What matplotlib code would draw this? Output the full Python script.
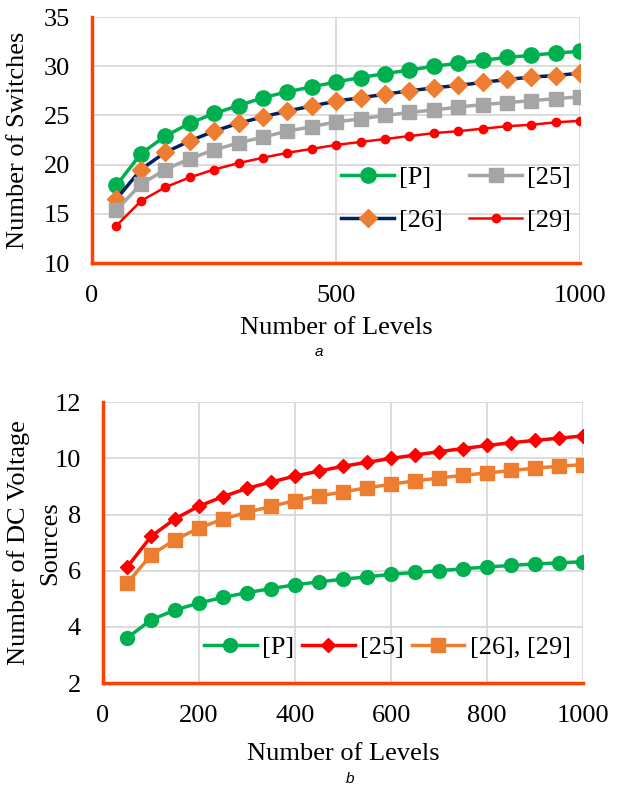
import matplotlib.pyplot as plt

levels = [50, 100, 150, 200, 250, 300, 350, 400, 450, 500,
          550, 600, 650, 700, 750, 800, 850, 900, 950, 1000]

# (a) number of switches
sw_p = [17.9, 21.1, 22.9, 24.2, 25.2, 26.0, 26.8, 27.4, 27.9, 28.4,
        28.85, 29.25, 29.6, 30.0, 30.3, 30.6, 30.9, 31.1, 31.35, 31.5]
sw_25 = [15.4, 18.0, 19.5, 20.6, 21.5, 22.2, 22.8, 23.4, 23.85, 24.35,
         24.65, 25.0, 25.3, 25.55, 25.85, 26.1, 26.3, 26.5, 26.7, 26.9]
sw_26 = [16.5, 19.5, 21.25, 22.4, 23.4, 24.2, 24.85, 25.45, 25.95, 26.45,
         26.8, 27.15, 27.5, 27.8, 28.05, 28.35, 28.65, 28.9, 29.05, 29.3]
sw_29 = [13.8, 16.3, 17.7, 18.7, 19.5, 20.15, 20.7, 21.2, 21.6, 22.0,
         22.3, 22.6, 22.9, 23.2, 23.4, 23.65, 23.9, 24.05, 24.3, 24.45]

# (b) number of DC voltage sources
dc_p = [3.6, 4.25, 4.6, 4.85, 5.05, 5.22, 5.36, 5.5, 5.6, 5.7,
        5.78, 5.87, 5.94, 6.0, 6.07, 6.13, 6.19, 6.24, 6.28, 6.32]
dc_25 = [6.12, 7.22, 7.85, 8.3, 8.64, 8.93, 9.16, 9.37, 9.55, 9.72,
         9.86, 10.0, 10.12, 10.24, 10.35, 10.46, 10.56, 10.64, 10.72, 10.8]
dc_26_29 = [5.55, 6.56, 7.1, 7.52, 7.84, 8.08, 8.29, 8.5, 8.66, 8.81,
            8.95, 9.08, 9.2, 9.3, 9.4, 9.48, 9.57, 9.65, 9.72, 9.78]

plt.rcParams['font.family'] = ['Liberation Serif', 'DejaVu Serif']
plt.rcParams['font.size'] = 19

spine_col = '#FF4000'
grid_col = '#D9D9D9'

fig = plt.figure(figsize=(6.22, 7.91), dpi=100)


def style_axes(ax):
    for s in ['top', 'right']:
        ax.spines[s].set_visible(False)
    for s in ['left', 'bottom']:
        ax.spines[s].set_color(spine_col)
        ax.spines[s].set_linewidth(2.5)
    ax.grid(True, color=grid_col, linewidth=1.3)
    ax.set_axisbelow(True)
    ax.tick_params(length=0, pad=16)


# top chart
ax1 = fig.add_axes([0.148, 0.6675, 0.785, 0.311])
ax1.plot(levels, sw_p, color='#00B050', lw=2.5, marker='o', ms=11, label='[P]')
ax1.plot(levels, sw_26, color='#002060', lw=2.5, marker='D', ms=9,
         mfc='#ED7D31', mec='#ED7D31', label='[26]')
ax1.plot(levels, sw_25, color='#A5A5A5', lw=2.5, marker='s', ms=10.5, label='[25]')
ax1.plot(levels, sw_29, color='#FF0000', lw=1.8, marker='o', ms=6, label='[29]')
ax1.set_xlim(0, 1000)
ax1.set_ylim(10, 35)
ax1.set_xticks([0, 500, 1000])
ax1.set_yticks(range(10, 36, 5))
ax1.set_xlabel('Number of Levels', labelpad=7)
ax1.set_ylabel('Number of Switches', va='center')
ax1.yaxis.set_label_coords(-0.152, 0.5)
style_axes(ax1)
ax1.legend(ncol=2, frameon=False, loc='center', bbox_to_anchor=(0.746, 0.26),
           handlelength=2.0, columnspacing=1.0, labelspacing=0.75, handletextpad=0.2)
fig.text(0.512, 0.555, 'a', family='Liberation Sans', style='italic', fontsize=11,
         ha='center', va='center')

# bottom chart
ax2 = fig.add_axes([0.1656, 0.1365, 0.772, 0.355])
ax2.plot(levels, dc_p, color='#00B050', lw=2.5, marker='o', ms=10, label='[P]')
ax2.plot(levels, dc_25, color='#FF0000', lw=2.5, marker='D', ms=7, label='[25]')
ax2.plot(levels, dc_26_29, color='#ED7D31', lw=2.5, marker='s', ms=9.5, label='[26], [29]')
ax2.set_xlim(0, 1000)
ax2.set_ylim(2, 12)
ax2.set_xticks(range(0, 1001, 200))
ax2.set_yticks(range(2, 13, 2))
ax2.set_xlabel('Number of Levels', labelpad=11)
# two-line y label: second line drawn as its own text
ax2.set_ylabel('Number of DC Voltage', va='center')
ax2.yaxis.set_label_coords(-0.177, 0.5)
ax2.text(-0.11, 0.5, 'Sources', transform=ax2.transAxes, rotation=90,
         ha='center', va='center')
style_axes(ax2)
ax2.legend(ncol=3, frameon=False, loc='center', bbox_to_anchor=(0.592, 0.128),
           handlelength=2.0, columnspacing=0.3, handletextpad=0.2)
fig.text(0.5627, 0.015, 'b', family='Liberation Sans', style='italic', fontsize=11,
         ha='center', va='center')

fig.savefig('out.png', dpi=100)
